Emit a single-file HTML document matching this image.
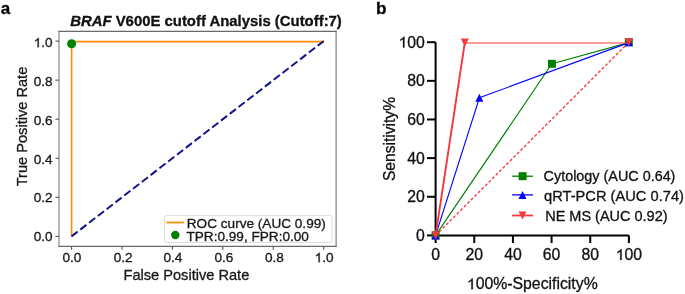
<!DOCTYPE html><html><head><meta charset="utf-8"><style>html,body{margin:0;padding:0;background:#fff;width:685px;height:294px;overflow:hidden}svg{display:block;will-change:transform}text{font-family:"Liberation Sans",sans-serif;stroke:#111;stroke-width:0.3px}</style></head><body>
<svg width="685" height="294" viewBox="0 0 685 294">
<rect width="685" height="294" fill="#fff"/>
<text x="0.7" y="13.9" font-size="17" font-weight="bold" fill="#000">a</text>
<text x="376.1" y="13.8" font-size="17.2" font-weight="bold" fill="#000">b</text>
<text x="70.2" y="25.55" font-size="14.9" font-weight="bold" fill="#111"><tspan font-style="italic">BRAF</tspan> V600E cutoff Analysis (Cutoff:7)</text>
<line x1="59" y1="30.8" x2="59" y2="246.9" stroke="#707070" stroke-width="1"/>
<line x1="336.1" y1="30.8" x2="336.1" y2="246.9" stroke="#636363" stroke-width="1"/>
<line x1="58.5" y1="31.4" x2="336.6" y2="31.4" stroke="#6a6a6a" stroke-width="1.2"/>
<line x1="58.5" y1="246.4" x2="336.6" y2="246.4" stroke="#6a6a6a" stroke-width="1.2"/>
<line x1="71.5" y1="246.3" x2="71.5" y2="249.8" stroke="#555" stroke-width="1.1"/>
<text x="71.9" y="262.2" font-size="13.6" text-anchor="middle" fill="#1a1a1a">0.0</text>
<line x1="121.94" y1="246.3" x2="121.94" y2="249.8" stroke="#555" stroke-width="1.1"/>
<text x="123.24" y="262.2" font-size="13.6" text-anchor="middle" fill="#1a1a1a">0.2</text>
<line x1="172.38" y1="246.3" x2="172.38" y2="249.8" stroke="#555" stroke-width="1.1"/>
<text x="172.88" y="262.2" font-size="13.6" text-anchor="middle" fill="#1a1a1a">0.4</text>
<line x1="222.82" y1="246.3" x2="222.82" y2="249.8" stroke="#555" stroke-width="1.1"/>
<text x="223.92" y="262.2" font-size="13.6" text-anchor="middle" fill="#1a1a1a">0.6</text>
<line x1="273.26" y1="246.3" x2="273.26" y2="249.8" stroke="#555" stroke-width="1.1"/>
<text x="274.36" y="262.2" font-size="13.6" text-anchor="middle" fill="#1a1a1a">0.8</text>
<line x1="323.7" y1="246.3" x2="323.7" y2="249.8" stroke="#555" stroke-width="1.1"/>
<text x="314.647" y="262.2" font-size="13.6" fill="#1a1a1a">&#x2007;.0</text><path d="M763 0H583V1098Q518 1038 412 979Q307 920 223 890V1057Q374 1125 487 1221Q600 1318 647 1409H763Z" fill="#1a1a1a" stroke="#1a1a1a" stroke-width="0.3" vector-effect="non-scaling-stroke" transform="translate(314.647 262.2) scale(0.006641 -0.006641)"/>
<line x1="55.4" y1="236.4" x2="58.9" y2="236.4" stroke="#555" stroke-width="1.1"/>
<text x="52.6" y="240.5" font-size="13.6" text-anchor="end" fill="#1a1a1a">0.0</text>
<line x1="55.4" y1="197.34" x2="58.9" y2="197.34" stroke="#555" stroke-width="1.1"/>
<text x="52.6" y="201.6" font-size="13.6" text-anchor="end" fill="#1a1a1a">0.2</text>
<line x1="55.4" y1="158.28" x2="58.9" y2="158.28" stroke="#555" stroke-width="1.1"/>
<text x="52.6" y="163.9" font-size="13.6" text-anchor="end" fill="#1a1a1a">0.4</text>
<line x1="55.4" y1="119.22" x2="58.9" y2="119.22" stroke="#555" stroke-width="1.1"/>
<text x="52.6" y="124.6" font-size="13.6" text-anchor="end" fill="#1a1a1a">0.6</text>
<line x1="55.4" y1="80.16" x2="58.9" y2="80.16" stroke="#555" stroke-width="1.1"/>
<text x="52.6" y="86.4" font-size="13.6" text-anchor="end" fill="#1a1a1a">0.8</text>
<line x1="55.4" y1="41.1" x2="58.9" y2="41.1" stroke="#555" stroke-width="1.1"/>
<text x="33.694" y="47.3" font-size="13.6" fill="#1a1a1a">&#x2007;.0</text><path d="M763 0H583V1098Q518 1038 412 979Q307 920 223 890V1057Q374 1125 487 1221Q600 1318 647 1409H763Z" fill="#1a1a1a" stroke="#1a1a1a" stroke-width="0.3" vector-effect="non-scaling-stroke" transform="translate(33.694 47.3) scale(0.006641 -0.006641)"/>
<text transform="translate(27,126.5) rotate(-90)" font-size="14.6" text-anchor="middle" fill="#1a1a1a">True Positive Rate</text>
<text x="186.4" y="280.2" font-size="14.6" text-anchor="middle" fill="#1a1a1a">False Positive Rate</text>
<polyline points="71.6,236.4 71.6,41.6 324,41.6" fill="none" stroke="#ff8c00" stroke-width="1.6"/>
<line x1="71.5" y1="236.4" x2="323.7" y2="41.1" stroke="#14148a" stroke-width="2.0" stroke-dasharray="7.75 3.37"/>
<circle cx="71.6" cy="43.8" r="4.5" fill="#008000"/>
<rect x="164.5" y="215.6" width="167.5" height="26.8" rx="2" fill="#fff" fill-opacity="0.85" stroke="#dcdcdc" stroke-width="1"/>
<line x1="166.3" y1="222.5" x2="184.2" y2="222.5" stroke="#ff8c00" stroke-width="1.7"/>
<circle cx="175.3" cy="235.0" r="4.2" fill="#008000"/>
<text x="186.8" y="228.0" font-size="13.6" fill="#1a1a1a">ROC curve (AUC 0.99)</text>
<text x="186.5" y="240.8" font-size="13.6" fill="#1a1a1a">TPR:0.99, FPR:0.00</text>
<path d="M435.6 42.2 V235.4 H628.9" fill="none" stroke="#000" stroke-width="2"/>
<line x1="427" y1="235.4" x2="435.6" y2="235.4" stroke="#000" stroke-width="2"/>
<line x1="427" y1="196.76" x2="435.6" y2="196.76" stroke="#000" stroke-width="2"/>
<line x1="427" y1="158.12" x2="435.6" y2="158.12" stroke="#000" stroke-width="2"/>
<line x1="427" y1="119.48" x2="435.6" y2="119.48" stroke="#000" stroke-width="2"/>
<line x1="427" y1="80.84" x2="435.6" y2="80.84" stroke="#000" stroke-width="2"/>
<line x1="427" y1="42.2" x2="435.6" y2="42.2" stroke="#000" stroke-width="2"/>
<line x1="435.6" y1="235.4" x2="435.6" y2="243" stroke="#000" stroke-width="2"/>
<line x1="474.26" y1="235.4" x2="474.26" y2="243" stroke="#000" stroke-width="2"/>
<line x1="512.92" y1="235.4" x2="512.92" y2="243" stroke="#000" stroke-width="2"/>
<line x1="551.58" y1="235.4" x2="551.58" y2="243" stroke="#000" stroke-width="2"/>
<line x1="590.24" y1="235.4" x2="590.24" y2="243" stroke="#000" stroke-width="2"/>
<line x1="628.9" y1="235.4" x2="628.9" y2="243" stroke="#000" stroke-width="2"/>
<text x="424.9" y="240.8" font-size="15.8" text-anchor="end" fill="#111">0</text>
<text x="424.9" y="202.16" font-size="15.8" text-anchor="end" fill="#111">20</text>
<text x="424.9" y="163.52" font-size="15.8" text-anchor="end" fill="#111">40</text>
<text x="424.9" y="124.88" font-size="15.8" text-anchor="end" fill="#111">60</text>
<text x="424.9" y="86.24" font-size="15.8" text-anchor="end" fill="#111">80</text>
<text x="398.538" y="47.6" font-size="15.8" fill="#111">&#x2007;00</text><path d="M763 0H583V1098Q518 1038 412 979Q307 920 223 890V1057Q374 1125 487 1221Q600 1318 647 1409H763Z" fill="#111" stroke="#111" stroke-width="0.3" vector-effect="non-scaling-stroke" transform="translate(398.538 47.6) scale(0.007715 -0.007715)"/>
<text x="435.6" y="260" font-size="15.8" text-anchor="middle" fill="#111">0</text>
<text x="474.26" y="260" font-size="15.8" text-anchor="middle" fill="#111">20</text>
<text x="512.92" y="260" font-size="15.8" text-anchor="middle" fill="#111">40</text>
<text x="551.58" y="260" font-size="15.8" text-anchor="middle" fill="#111">60</text>
<text x="590.24" y="260" font-size="15.8" text-anchor="middle" fill="#111">80</text>
<text x="615.719" y="260" font-size="15.8" fill="#111">&#x2007;00</text><path d="M763 0H583V1098Q518 1038 412 979Q307 920 223 890V1057Q374 1125 487 1221Q600 1318 647 1409H763Z" fill="#111" stroke="#111" stroke-width="0.3" vector-effect="non-scaling-stroke" transform="translate(615.719 260) scale(0.007715 -0.007715)"/>
<text transform="translate(394.6,139) rotate(-90)" font-size="15.6" text-anchor="middle" fill="#111">Sensitivity%</text>
<text x="466.878" y="289.3" font-size="15.8" fill="#111">&#x2007;00%-Specificity%</text><path d="M763 0H583V1098Q518 1038 412 979Q307 920 223 890V1057Q374 1125 487 1221Q600 1318 647 1409H763Z" fill="#111" stroke="#111" stroke-width="0.3" vector-effect="non-scaling-stroke" transform="translate(466.878 289.3) scale(0.007715 -0.007715)"/>
<line x1="435.6" y1="235.4" x2="628.9" y2="42.2" stroke="#f5383d" stroke-width="1.35" stroke-dasharray="3 2"/>
<polyline points="435.6,235.4 551.9,63.8 628.8,42.6" fill="none" stroke="#008000" stroke-width="1.15" stroke-linejoin="round"/>
<rect x="431.6" y="231.4" width="8" height="8" fill="#008000"/>
<rect x="547.9" y="59.8" width="8" height="8" fill="#008000"/>
<rect x="624.8" y="38.2" width="8" height="8" fill="#008000"/>
<polyline points="435.6,235.4 479.4,97.8 628.8,42.6" fill="none" stroke="#0000ff" stroke-width="1.15" stroke-linejoin="round"/>
<polygon points="435.6,231.4 439.6,239.4 431.6,239.4" fill="#0000ff"/>
<polygon points="479.4,93.8 483.4,101.8 475.4,101.8" fill="#0000ff"/>
<polygon points="628.8,38.2 632.8,46.2 624.8,46.2" fill="#0000ff"/>
<polyline points="435.6,235.4 464.8,42.6" fill="none" stroke="#f5383d" stroke-width="1.9" stroke-linejoin="round"/>
<line x1="464.8" y1="43" x2="628.8" y2="43" stroke="#f5383d" stroke-width="1.1"/>
<polygon points="435.6,239.4 439.6,231.4 431.6,231.4" fill="#f5383d"/>
<polygon points="464.8,46.6 468.8,38.6 460.8,38.6" fill="#f5383d"/>
<polygon points="628.8,46.2 632.8,38.2 624.8,38.2" fill="#f5383d"/>
<line x1="512.1" y1="176.2" x2="533" y2="176.2" stroke="#008000" stroke-width="1.3"/>
<rect x="518.6" y="172.2" width="8" height="8" fill="#008000"/>
<text x="543.6" y="181.1" font-size="14.39" fill="#111">Cytology (AUC 0.64)</text>
<line x1="512.1" y1="194.9" x2="533" y2="194.9" stroke="#0000ff" stroke-width="1.3"/>
<polygon points="522.5,190.9 526.5,198.9 518.5,198.9" fill="#0000ff"/>
<text x="544.1" y="200.6" font-size="14.67" fill="#111">qRT-PCR (AUC 0.74)</text>
<line x1="512.1" y1="215.5" x2="533" y2="215.5" stroke="#f5383d" stroke-width="1.8"/>
<polygon points="522.5,219.5 526.5,211.5 518.5,211.5" fill="#f5383d"/>
<text x="545.2" y="220.5" font-size="14.49" fill="#111">NE MS (AUC 0.92)</text>
</svg></body></html>
